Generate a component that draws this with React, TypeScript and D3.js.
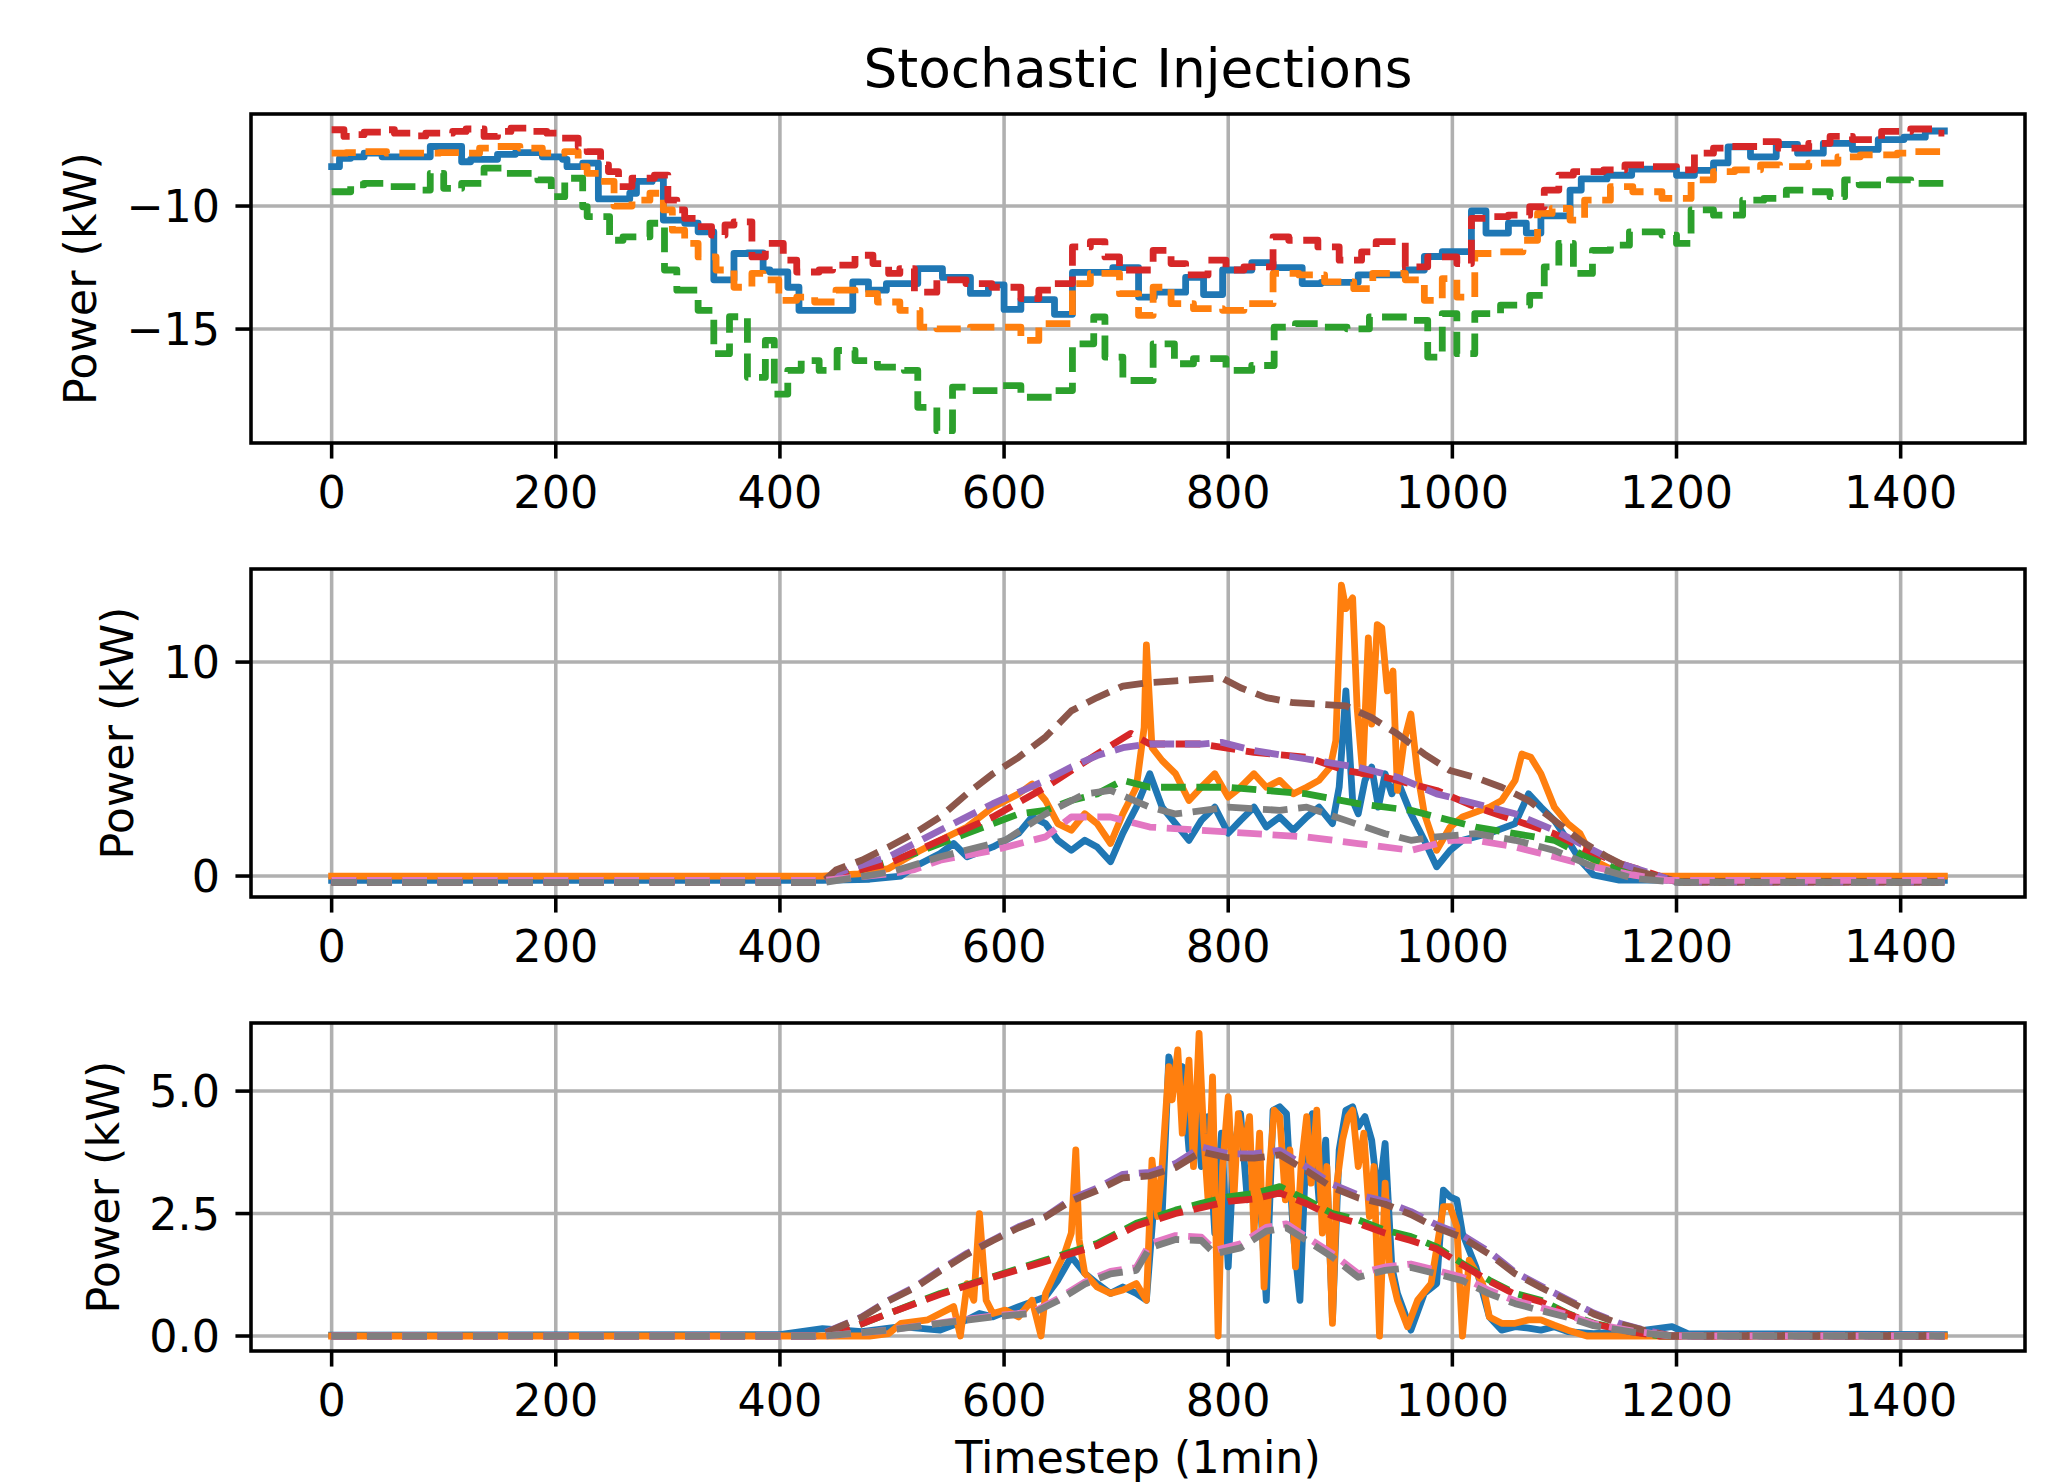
import React from "react";
import * as d3 from "d3";

type Pt = [number, number];

// ---------------- DATA ----------------
const xTicks = [0, 200, 400, 600, 800, 1000, 1200, 1400];
const lastStep = 1439;

// Panel 1 (stepwise loads)
const topBlue: Pt[] = [[0,-8.4],[7,-8.06],[17,-8.0],[29,-7.85],[45,-8.0],[88,-7.58],[116,-8.2],[124,-8.1],[148,-7.9],[164,-7.83],[188,-8.0],[206,-8.1],[210,-8.4],[224,-8.26],[238,-9.71],[266,-9.48],[272,-9.0],[286,-8.87],[296,-10.57],[315,-10.7],[327,-11.05],[341,-13.0],[359,-11.93],[371,-11.9],[385,-12.6],[391,-12.68],[407,-13.3],[417,-14.24],[465,-13.08],[479,-13.42],[495,-13.15],[523,-12.54],[545,-12.9],[570,-13.55],[586,-13.2],[600,-14.2],[615,-13.8],[645,-14.4],[661,-12.7],[697,-12.5],[720,-13.7],[734,-13.5],[762,-12.9],[778,-13.6],[795,-12.6],[821,-12.3],[840,-12.5],[866,-13.15],[883,-13.1],[916,-12.8],[958,-12.6],[975,-12.05],[991,-11.85],[1017,-10.2],[1030,-11.1],[1050,-10.7],[1066,-11.1],[1079,-10.4],[1105,-9.35],[1115,-8.9],[1138,-8.75],[1160,-8.5],[1200,-8.75],[1216,-8.55],[1233,-8.25],[1246,-7.6],[1266,-8.0],[1289,-7.5],[1308,-7.85],[1331,-7.45],[1357,-7.7],[1380,-7.3],[1403,-7.2],[1422,-6.95]];
const topOrange: Pt[] = [[0,-7.85],[13,-7.83],[29,-7.79],[49,-7.85],[96,-7.83],[120,-7.85],[132,-7.65],[148,-7.58],[168,-7.65],[188,-7.85],[208,-7.79],[220,-8.4],[228,-8.67],[240,-9.0],[252,-10.0],[268,-9.76],[284,-9.48],[296,-10.16],[304,-10.98],[315,-11.52],[327,-12.07],[343,-12.6],[359,-13.3],[375,-12.74],[385,-13.0],[399,-13.83],[415,-13.7],[431,-13.9],[450,-13.42],[467,-13.56],[487,-13.9],[507,-14.24],[525,-14.92],[540,-14.99],[570,-14.92],[615,-15.46],[631,-14.78],[661,-13.15],[677,-12.74],[703,-13.56],[720,-14.44],[733,-13.3],[749,-13.97],[769,-14.17],[795,-14.24],[814,-13.97],[840,-12.74],[863,-12.8],[886,-13.08],[912,-13.36],[929,-12.74],[958,-13.0],[975,-13.83],[991,-12.95],[1004,-13.7],[1020,-11.93],[1037,-11.86],[1063,-11.39],[1076,-10.3],[1089,-10.1],[1105,-10.57],[1118,-9.76],[1141,-9.21],[1161,-9.42],[1187,-9.69],[1213,-8.94],[1233,-8.6],[1252,-8.53],[1275,-8.33],[1292,-8.4],[1318,-8.26],[1344,-8.0],[1364,-7.92],[1397,-7.85],[1411,-7.79]];
const topGreen: Pt[] = [[0,-9.42],[17,-9.14],[29,-9.08],[49,-9.21],[76,-9.35],[88,-8.67],[100,-9.28],[116,-9.08],[136,-8.46],[156,-8.67],[184,-8.94],[196,-9.62],[208,-8.87],[224,-10.03],[228,-10.43],[248,-11.39],[260,-11.25],[284,-10.7],[297,-12.6],[308,-13.42],[327,-14.24],[341,-16.0],[355,-14.5],[371,-16.96],[387,-15.46],[395,-17.64],[407,-16.68],[419,-16.28],[435,-16.68],[451,-15.87],[467,-16.28],[487,-16.55],[511,-16.68],[523,-18.18],[540,-19.13],[554,-17.36],[570,-17.5],[599,-17.3],[615,-17.77],[645,-17.5],[661,-15.6],[680,-14.51],[690,-16.14],[706,-17.09],[733,-15.6],[752,-16.41],[769,-16.2],[798,-16.68],[821,-16.48],[841,-14.92],[860,-14.78],[880,-14.92],[906,-14.99],[926,-14.51],[965,-14.65],[978,-16.14],[991,-14.37],[1004,-16.0],[1020,-14.37],[1043,-14.03],[1069,-13.63],[1082,-12.47],[1095,-11.52],[1108,-12.74],[1125,-11.8],[1141,-11.59],[1158,-11.05],[1187,-11.18],[1200,-11.52],[1213,-10.16],[1233,-10.37],[1259,-9.76],[1278,-9.69],[1298,-9.35],[1318,-9.42],[1337,-9.62],[1350,-8.94],[1363,-9.14],[1390,-8.94],[1409,-9.08]];
const topRed: Pt[] = [[0,-6.9],[11,-7.17],[17,-7.1],[29,-7.0],[47,-6.9],[56,-7.04],[72,-7.15],[84,-7.04],[108,-6.97],[120,-6.87],[136,-7.17],[148,-6.97],[160,-6.83],[180,-6.97],[192,-7.04],[204,-7.24],[220,-7.58],[228,-7.79],[240,-8.33],[247,-8.6],[256,-9.21],[268,-8.87],[288,-8.74],[300,-9.76],[308,-10.16],[315,-10.5],[325,-10.84],[339,-11.18],[351,-10.77],[359,-10.64],[375,-12.07],[387,-11.52],[403,-12.2],[415,-12.68],[435,-12.6],[447,-12.4],[467,-12.0],[483,-12.34],[497,-12.74],[507,-12.54],[520,-13.5],[540,-13.0],[566,-13.15],[589,-13.3],[615,-13.76],[631,-13.42],[644,-13.15],[661,-11.66],[677,-11.45],[690,-12.07],[703,-12.6],[733,-11.8],[749,-12.34],[762,-12.8],[782,-12.2],[798,-12.6],[814,-12.47],[840,-11.25],[854,-11.39],[880,-11.66],[899,-12.2],[919,-11.86],[932,-11.45],[958,-12.47],[978,-12.07],[1004,-12.34],[1017,-10.5],[1030,-10.43],[1050,-10.37],[1069,-10.03],[1082,-9.35],[1095,-8.74],[1108,-8.6],[1135,-8.53],[1154,-8.33],[1174,-8.4],[1200,-8.53],[1216,-7.85],[1233,-7.65],[1246,-7.58],[1272,-7.38],[1291,-7.65],[1318,-7.45],[1337,-7.17],[1357,-7.3],[1383,-6.97],[1409,-6.87],[1429,-7.04]];

// Panel 2
const midBlue: Pt[] = [[0,-0.2],[438,-0.2],[480,-0.15],[508,0.0],[520,0.43],[543,1.05],[555,1.52],[567,0.9],[590,1.36],[613,2.0],[625,2.76],[637,2.45],[648,1.67],[660,1.2],[672,1.67],[683,1.36],[695,0.67],[706,2.0],[718,3.22],[730,4.78],[741,3.22],[753,2.45],[765,1.67],[776,2.6],[788,3.22],[800,2.0],[811,2.6],[823,3.22],[834,2.29],[846,2.76],[858,2.14],[870,2.76],[881,3.22],[893,2.45],[899,4.15],[905,8.65],[911,3.53],[916,2.91],[922,4.47],[928,5.09],[934,3.22],[940,4.78],[946,3.84],[951,4.47],[963,2.91],[975,1.67],[986,0.43],[998,1.2],[1009,1.67],[1033,2.0],[1056,2.45],[1068,3.84],[1079,3.22],[1091,2.6],[1103,1.67],[1114,0.74],[1126,0.05],[1149,-0.19],[1439,-0.2]];
const midOrange: Pt[] = [[0,0.0],[438,0.0],[470,0.1],[497,0.35],[520,1.05],[543,1.67],[567,2.29],[590,3.22],[613,3.84],[625,4.3],[637,3.53],[648,2.45],[660,2.14],[672,2.91],[683,2.45],[695,1.52],[706,2.91],[718,4.15],[725,6.95],[727,10.8],[732,6.0],[741,5.4],[753,4.78],[765,3.53],[776,4.15],[788,4.78],[800,3.69],[811,4.15],[823,4.78],[834,4.15],[846,4.47],[858,3.84],[870,4.15],[881,4.47],[891,5.09],[896,6.33],[901,13.6],[905,12.5],[911,13.0],[915,7.88],[920,4.78],[925,11.13],[928,7.1],[933,11.75],[937,11.6],[942,8.65],[947,9.58],[951,4.0],[957,6.33],[963,7.57],[969,4.78],[975,2.91],[986,1.2],[998,2.29],[1009,2.76],[1033,3.22],[1044,3.53],[1056,4.47],[1062,5.7],[1070,5.55],[1079,4.78],[1091,3.22],[1103,2.45],[1114,1.98],[1126,0.74],[1149,0.12],[1172,0.0],[1439,0.0]];
const midGreen: Pt[] = [[0,-0.28],[440,-0.28],[462,0.12],[520,1.05],[567,2.0],[613,2.9],[637,3.07],[660,3.53],[683,3.84],[706,4.47],[730,4.15],[800,4.15],[834,4.0],[870,3.84],[916,3.38],[963,3.07],[986,2.76],[1021,2.29],[1056,1.98],[1091,1.67],[1114,1.05],[1149,0.28],[1172,0.05],[1200,-0.28],[1439,-0.28]];
const midRed: Pt[] = [[0,-0.28],[440,-0.28],[450,0.05],[497,0.59],[543,1.67],[590,2.76],[637,4.15],[683,5.7],[713,6.67],[730,6.17],[776,6.17],[823,5.78],[870,5.55],[905,4.93],[940,4.62],[986,4.0],[1021,3.22],[1056,2.6],[1091,1.98],[1114,1.36],[1149,0.59],[1178,0.12],[1200,-0.28],[1439,-0.28]];
const midPurple: Pt[] = [[0,-0.28],[440,-0.28],[450,0.12],[497,0.9],[543,2.14],[590,3.38],[637,4.47],[660,5.1],[683,5.63],[706,6.0],[730,6.17],[776,6.17],[794,6.25],[823,5.86],[870,5.47],[916,5.08],[951,4.62],[986,3.84],[1021,3.38],[1056,2.91],[1091,2.14],[1114,1.52],[1149,0.59],[1178,0.12],[1200,-0.28],[1439,-0.28]];
const midBrown: Pt[] = [[0,-0.28],[438,-0.28],[450,0.28],[473,0.74],[497,1.36],[520,2.0],[543,2.76],[567,3.85],[590,4.78],[613,5.55],[637,6.5],[660,7.72],[683,8.34],[706,8.88],[730,9.04],[753,9.12],[776,9.2],[794,9.27],[811,8.8],[834,8.34],[858,8.1],[881,8.03],[905,7.95],[928,7.4],[951,6.64],[975,5.7],[998,4.93],[1021,4.6],[1044,4.15],[1068,3.53],[1091,2.6],[1114,1.67],[1138,0.9],[1161,0.28],[1184,-0.03],[1202,-0.28],[1439,-0.28]];
const midPink: Pt[] = [[0,-0.2],[440,-0.2],[497,0.1],[520,0.3],[543,0.74],[590,1.2],[637,1.83],[660,2.76],[695,2.76],[730,2.29],[776,2.14],[823,1.98],[870,1.83],[916,1.52],[963,1.2],[998,1.67],[1021,1.67],[1056,1.36],[1091,0.9],[1126,0.43],[1161,0.05],[1190,-0.2],[1439,-0.2]];
const midGray: Pt[] = [[0,-0.3],[440,-0.3],[500,0.2],[543,0.9],[601,1.67],[637,2.9],[672,3.84],[695,4.0],[730,3.22],[753,2.9],[800,3.22],[846,3.07],[870,3.22],[905,2.6],[940,1.98],[963,1.67],[986,1.83],[1021,1.98],[1056,1.67],[1091,1.2],[1126,0.43],[1161,-0.1],[1200,-0.3],[1439,-0.3]];

// Panel 3
const botBlue: Pt[] = [[0,0.02],[400,0.03],[438,0.15],[473,0.09],[508,0.19],[543,0.12],[567,0.33],[578,0.46],[590,0.39],[613,0.6],[637,0.8],[648,1.14],[660,1.62],[672,1.28],[683,1.07],[695,0.87],[706,1.0],[718,0.87],[727,0.73],[734,2.78],[741,2.44],[747,5.7],[753,5.16],[759,5.5],[765,3.8],[771,4.82],[776,3.46],[782,4.48],[788,2.1],[794,4.14],[800,1.41],[805,3.8],[811,4.54],[817,2.78],[823,3.46],[829,2.64],[834,0.73],[840,4.61],[846,4.68],[852,4.54],[858,2.1],[864,0.73],[870,4.14],[875,4.54],[881,2.78],[887,4.0],[893,0.33],[899,3.8],[905,4.61],[911,4.68],[916,4.27],[922,4.48],[928,4.0],[934,2.78],[940,3.93],[946,1.41],[951,0.87],[963,0.12],[975,0.87],[986,1.07],[992,2.98],[998,2.84],[1004,2.78],[1009,2.1],[1021,1.41],[1033,0.39],[1044,0.12],[1056,0.19],[1068,0.16],[1079,0.12],[1091,0.19],[1103,0.09],[1126,0.05],[1172,0.12],[1196,0.19],[1210,0.05],[1439,0.03]];
const botOrange: Pt[] = [[0,0],[480,0],[497,0.05],[508,0.26],[532,0.33],[555,0.6],[561,0.0],[567,1.07],[573,0.73],[578,2.5],[584,0.73],[590,0.46],[601,0.53],[613,0.39],[625,0.73],[633,0.0],[637,0.87],[648,1.41],[654,1.69],[660,2.1],[664,3.8],[667,1.96],[672,1.28],[683,1.0],[695,0.87],[706,0.94],[718,1.07],[727,0.73],[732,3.59],[737,2.44],[741,3.46],[747,5.5],[750,4.82],[755,5.84],[759,4.14],[765,5.63],[769,3.46],[774,6.18],[778,4.14],[782,2.78],[786,5.29],[791,0.0],[795,3.46],[800,4.88],[805,2.78],[809,4.54],[814,3.8],[819,4.48],[823,2.1],[828,4.14],[832,1.0],[837,3.46],[841,4.61],[846,4.48],[851,2.78],[855,3.8],[860,1.41],[865,3.46],[870,4.48],[874,3.12],[879,4.61],[884,2.1],[888,3.46],[893,0.26],[897,3.12],[902,4.0],[907,4.48],[911,4.61],[916,3.46],[921,4.14],[926,2.44],[930,3.46],[935,0.0],[940,3.12],[944,1.41],[951,0.73],[960,0.19],[969,0.73],[981,1.07],[992,2.64],[998,2.64],[1004,2.23],[1009,0.0],[1015,1.55],[1027,1.07],[1033,0.39],[1044,0.26],[1056,0.26],[1068,0.33],[1079,0.33],[1091,0.22],[1103,0.12],[1120,0.0],[1439,0.0]];
const botGreen: Pt[] = [[0,0],[440,0],[450,0.05],[497,0.46],[543,0.87],[590,1.21],[637,1.55],[683,1.89],[718,2.3],[753,2.57],[776,2.71],[800,2.84],[823,2.91],[846,3.05],[870,2.78],[893,2.5],[916,2.37],[940,2.16],[963,2.03],[986,1.82],[1009,1.48],[1033,1.14],[1056,0.87],[1079,0.73],[1103,0.46],[1126,0.26],[1161,0.09],[1185,0],[1439,0]];
const botRed: Pt[] = [[0,0],[440,0],[450,0.05],[497,0.46],[543,0.85],[590,1.2],[637,1.52],[683,1.85],[718,2.25],[753,2.5],[776,2.62],[800,2.75],[823,2.8],[846,2.92],[870,2.7],[893,2.45],[916,2.3],[940,2.1],[963,1.95],[986,1.78],[1009,1.45],[1033,1.12],[1056,0.85],[1079,0.7],[1103,0.45],[1126,0.25],[1161,0.08],[1185,0],[1439,0]];
const botPurple: Pt[] = [[0,0],[430,0],[438,0.05],[473,0.39],[497,0.73],[520,1.0],[543,1.35],[567,1.69],[590,1.96],[613,2.23],[637,2.44],[660,2.8],[683,3.02],[706,3.3],[730,3.34],[753,3.52],[776,3.86],[800,3.72],[823,3.72],[846,3.79],[870,3.45],[893,3.1],[916,2.88],[940,2.75],[963,2.54],[986,2.27],[1009,2.06],[1033,1.72],[1056,1.3],[1079,1.02],[1103,0.74],[1126,0.47],[1149,0.26],[1172,0.12],[1196,0],[1439,0]];
const botBrown: Pt[] = [[0,0],[430,0],[438,0.04],[473,0.38],[497,0.72],[520,0.98],[543,1.33],[567,1.67],[590,1.95],[613,2.21],[637,2.43],[660,2.76],[683,2.97],[706,3.23],[730,3.27],[753,3.44],[776,3.76],[800,3.64],[823,3.63],[846,3.7],[870,3.37],[893,3.03],[916,2.82],[940,2.69],[963,2.48],[986,2.21],[1009,2.01],[1033,1.67],[1056,1.27],[1079,0.99],[1103,0.72],[1126,0.45],[1149,0.25],[1172,0.11],[1196,0],[1439,0]];
const botPink: Pt[] = [[0,0],[440,0],[497,0.12],[543,0.27],[590,0.41],[625,0.48],[648,0.76],[672,1.1],[695,1.32],[718,1.4],[730,1.88],[753,2.05],[776,2.02],[788,1.75],[811,1.88],[834,2.22],[852,2.29],[870,2.02],[893,1.68],[916,1.27],[940,1.41],[963,1.47],[986,1.34],[1009,1.2],[1033,0.93],[1056,0.72],[1079,0.58],[1103,0.43],[1126,0.25],[1161,0.1],[1196,0],[1439,0]];
const botGray: Pt[] = [[0,0],[440,0],[497,0.12],[543,0.26],[590,0.39],[625,0.46],[648,0.72],[672,1.06],[695,1.27],[718,1.34],[730,1.8],[753,1.97],[776,1.95],[788,1.68],[811,1.8],[834,2.14],[852,2.21],[870,1.95],[893,1.61],[916,1.2],[940,1.34],[963,1.4],[986,1.27],[1009,1.13],[1033,0.86],[1056,0.66],[1079,0.52],[1103,0.38],[1126,0.21],[1161,0.08],[1196,0],[1439,0]];

const topYTicks = [-15, -10];
const midYTicks = [0, 10];
const botYTicks = [0, 2.5, 5];

const titleText = "Stochastic Injections";
const yLabelText = "Power (kW)";
const xLabelText = "Timestep (1min)";

// ---------------- STYLE ----------------
const COLORS = ["#1f77b4", "#ff7f0e", "#2ca02c", "#d62728", "#9467bd", "#8c564b", "#e377c2", "#7f7f7f"];
const FONT = "DejaVu Sans";
const FS = 44.44;
const LW = 6.8;
const DASH = "24.67 10.67";
const AX_L = 251;
const AX_R = 2025;

type Series = { data: Pt[]; color: string; dashed: boolean };

const fmtMinus = (v: number) => (v < 0 ? "\u2212" + Math.abs(v) : String(v));

const x = d3.scaleLinear().domain([-71.95, 1510.95]).range([AX_L, AX_R]);

function Panel(props: {
  id: string;
  top: number;
  bottom: number;
  yDomain: [number, number];
  yTicks: number[];
  fmt: (v: number) => string;
  series: Series[];
  step: boolean;
  ylabelX: number;
}) {
  const { id, top, bottom, yDomain, yTicks, fmt, series, step, ylabelX } = props;
  const y = d3.scaleLinear().domain(yDomain).range([bottom, top]);
  const line = d3
    .line<Pt>()
    .x((d) => x(d[0]))
    .y((d) => y(d[1]))
    .curve(step ? d3.curveStepAfter : d3.curveLinear);
  return (
    <g>
      <defs>
        <clipPath id={id}>
          <rect x={AX_L} y={top} width={AX_R - AX_L} height={bottom - top} />
        </clipPath>
      </defs>
      {xTicks.map((t) => (
        <line key={"gx" + t} x1={x(t)} x2={x(t)} y1={top} y2={bottom} stroke="#b0b0b0" strokeWidth={3.56} />
      ))}
      {yTicks.map((t) => (
        <line key={"gy" + t} x1={AX_L} x2={AX_R} y1={y(t)} y2={y(t)} stroke="#b0b0b0" strokeWidth={3.56} />
      ))}
      <g clipPath={`url(#${id})`}>
        {series.map((s, i) => {
          const pts = step ? s.data.concat([[lastStep, s.data[s.data.length - 1][1]]]) : s.data;
          return (
            <path
              key={i}
              d={line(pts) || ""}
              fill="none"
              stroke={s.color}
              strokeWidth={LW}
              strokeDasharray={s.dashed ? DASH : undefined}
              strokeLinejoin="round"
              strokeLinecap={s.dashed ? "butt" : "square"}
            />
          );
        })}
      </g>
      <rect x={AX_L} y={top} width={AX_R - AX_L} height={bottom - top} fill="none" stroke="#000" strokeWidth={3.56} />
      {xTicks.map((t) => (
        <g key={"tx" + t}>
          <line x1={x(t)} x2={x(t)} y1={bottom} y2={bottom + 15.56} stroke="#000" strokeWidth={3.56} />
          <text x={x(t)} y={bottom + 65} textAnchor="middle" fontFamily={FONT} fontSize={FS}>
            {t}
          </text>
        </g>
      ))}
      {yTicks.map((t) => (
        <g key={"ty" + t}>
          <line x1={AX_L - 15.56} x2={AX_L} y1={y(t)} y2={y(t)} stroke="#000" strokeWidth={3.56} />
          <text x={AX_L - 31} y={y(t) + 16} textAnchor="end" fontFamily={FONT} fontSize={FS}>
            {fmt(t)}
          </text>
        </g>
      ))}
      <text
        transform={`translate(${ylabelX},${(top + bottom) / 2}) rotate(-90)`}
        textAnchor="middle"
        fontFamily={FONT}
        fontSize={FS}
      >
        {yLabelText}
      </text>
    </g>
  );
}

export default function App() {
  const topSeries: Series[] = [
    { data: topBlue, color: COLORS[0], dashed: false },
    { data: topOrange, color: COLORS[1], dashed: true },
    { data: topGreen, color: COLORS[2], dashed: true },
    { data: topRed, color: COLORS[3], dashed: true },
  ];
  const midSeries: Series[] = [
    { data: midBlue, color: COLORS[0], dashed: false },
    { data: midOrange, color: COLORS[1], dashed: false },
    { data: midGreen, color: COLORS[2], dashed: true },
    { data: midRed, color: COLORS[3], dashed: true },
    { data: midPurple, color: COLORS[4], dashed: true },
    { data: midBrown, color: COLORS[5], dashed: true },
    { data: midPink, color: COLORS[6], dashed: true },
    { data: midGray, color: COLORS[7], dashed: true },
  ];
  const botSeries: Series[] = [
    { data: botBlue, color: COLORS[0], dashed: false },
    { data: botOrange, color: COLORS[1], dashed: false },
    { data: botGreen, color: COLORS[2], dashed: true },
    { data: botRed, color: COLORS[3], dashed: true },
    { data: botPurple, color: COLORS[4], dashed: true },
    { data: botBrown, color: COLORS[5], dashed: true },
    { data: botPink, color: COLORS[6], dashed: true },
    { data: botGray, color: COLORS[7], dashed: true },
  ];
  return (
    <svg
      width={2048}
      height={1482}
      style={{ position: "absolute", left: 0, top: 0, display: "block", background: "#fff" }}
    >
      <rect x={0} y={0} width={2048} height={1482} fill="#fff" />
      <text x={(AX_L + AX_R) / 2} y={87} textAnchor="middle" fontFamily={FONT} fontSize={53.3}>
        {titleText}
      </text>
      <Panel id="c1" top={114} bottom={443} yDomain={[-19.63, -6.26]} yTicks={topYTicks} fmt={fmtMinus} series={topSeries} step={true} ylabelX={96} />
      <Panel id="c2" top={569} bottom={897} yDomain={[-0.98, 14.35]} yTicks={midYTicks} fmt={(v) => String(v)} series={midSeries} step={false} ylabelX={133} />
      <Panel id="c3" top={1023} bottom={1351} yDomain={[-0.306, 6.39]} yTicks={botYTicks} fmt={(v) => v.toFixed(1)} series={botSeries} step={false} ylabelX={119} />
      <text x={(AX_L + AX_R) / 2} y={1473} textAnchor="middle" fontFamily={FONT} fontSize={FS}>
        {xLabelText}
      </text>
    </svg>
  );
}
